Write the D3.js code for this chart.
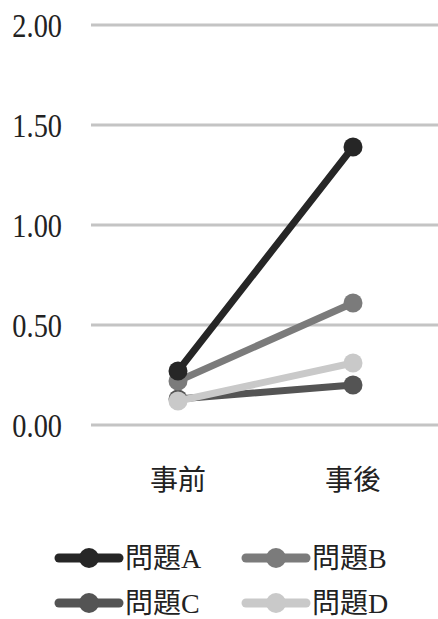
<!DOCTYPE html>
<html><head><meta charset="utf-8">
<script src="https://cdn.jsdelivr.net/npm/d3@7"></script>
<style>
html,body{margin:0;padding:0;background:#fff;}
text{font-family:"Liberation Serif","Noto Sans CJK TC",serif;fill:#222;}
</style></head>
<body><svg id="c" width="438" height="619"></svg>
<script>
const categories = ["事前", "事後"];
const seriesNames = ["問題A", "問題B", "問題C", "問題D"];
const valuesA = [0.27, 1.39];
const valuesB = [0.22, 0.61];
const valuesC = [0.13, 0.20];
const valuesD = [0.12, 0.31];
const yTicks = [0, 0.5, 1.0, 1.5, 2.0];
const colors = ["#262626", "#7b7b7b", "#545454", "#c9c9c9"];

const series = [valuesA, valuesB, valuesC, valuesD].map((v, i) => ({name: seriesNames[i], values: v, color: colors[i]}));

const svg = d3.select("#c");
const x = d3.scalePoint().domain(categories).range([178, 353]);
const y = d3.scaleLinear().domain([0, 2]).range([425, 25]);

// grid
svg.append("g").selectAll("line").data(yTicks).join("line")
  .attr("x1", 91).attr("x2", 438)
  .attr("y1", d => y(d)).attr("y2", d => y(d))
  .attr("stroke", "#c4c4c4").attr("stroke-width", 3);

// y labels
svg.append("g").selectAll("text").data(yTicks).join("text")
  .attr("transform", d => `translate(62,${y(d)}) scale(0.86,1)`)
  .attr("dy", "0.35em").attr("text-anchor", "end")
  .attr("font-size", 33)
  .text(d => d3.format(".2f")(d));

// x labels
svg.append("g").selectAll("text").data(categories).join("text")
  .attr("x", d => x(d)).attr("y", 490)
  .attr("text-anchor", "middle").attr("font-size", 28)
  .text(d => d);

const line = d3.line().x((d, i) => x(categories[i])).y(d => y(d));
const order = [2, 3, 1, 0];
const g = svg.append("g");
order.forEach(i => {
  const s = series[i];
  g.append("path").attr("d", line(s.values)).attr("fill", "none")
    .attr("stroke", s.color).attr("stroke-width", 7).attr("stroke-linecap", "round");
  g.selectAll(null).data(s.values).join("circle")
    .attr("cx", (d, j) => x(categories[j])).attr("cy", d => y(d))
    .attr("r", 9.5).attr("fill", s.color);
});

// legend
const legPos = [[55, 558], [242, 558], [55, 603], [242, 603]];
series.forEach((s, i) => {
  const [lx, ly] = legPos[i];
  const lg = svg.append("g").attr("transform", `translate(${lx},${ly})`);
  lg.append("line").attr("x1", 4).attr("x2", 64).attr("y1", 0).attr("y2", 0)
    .attr("stroke", s.color).attr("stroke-width", 9).attr("stroke-linecap", "round");
  lg.append("circle").attr("cx", 34).attr("cy", 0).attr("r", 10).attr("fill", s.color);
  lg.append("text").attr("x", 70).attr("y", 0).attr("dy", "0.36em")
    .attr("font-size", 28).text(s.name);
});
</script></body></html>
